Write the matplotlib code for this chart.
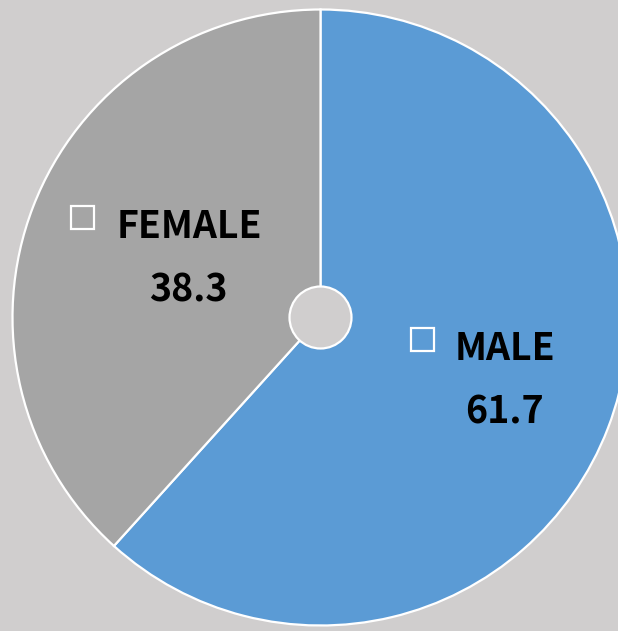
import matplotlib
matplotlib.use("Agg")
import matplotlib.pyplot as plt
from matplotlib.patches import Circle, Rectangle

plt.rcParams['font.family'] = ['Noto Sans CJK JP', 'DejaVu Sans']

categories = ["MALE", "FEMALE"]
values = [61.7, 38.3]
colors = ["#5b9bd5", "#a5a5a5"]
bg = "#d0cece"

W, H = 618, 631
fig = plt.figure(figsize=(W / 100, H / 100), dpi=100, facecolor=bg)
ax = fig.add_axes([0, 0, 1, 1])
ax.set_facecolor(bg)
ax.set_xlim(0, W)
ax.set_ylim(H, 0)
ax.axis('off')

cx, cy, R = 320.5, 317.5, 308
# y axis inverted -> counterclock=True appears clockwise
ax.pie(values, colors=colors, startangle=-90, counterclock=True,
       center=(cx, cy), radius=R, frame=True,
       wedgeprops=dict(edgecolor="white", linewidth=1.6))
ax.set_xlim(0, W)
ax.set_ylim(H, 0)
ax.set_aspect('equal')
ax.axis('off')

ax.add_patch(Circle((cx, cy), 31, facecolor=bg, edgecolor="white", lw=1.6, zorder=5))

# label layout: (square x, square y, name center x, name baseline, value center x, value baseline)
layout = {
    "MALE": (411, 328, 505, 360, 504, 423.5),
    "FEMALE": (71, 206, 189, 238, 188.5, 301),
}
for cat, val in zip(categories, values):
    sx, sy, nx, ny, vx, vy = layout[cat]
    ax.add_patch(Rectangle((sx, sy), 22.5, 22.5, facecolor="none", edgecolor="white", lw=1.6, zorder=6))
    ax.text(nx, ny, cat, ha='center', va='baseline', fontsize=27, fontweight='bold', color='black', zorder=7)
    ax.text(vx, vy, f"{val:.1f}", ha='center', va='baseline', fontsize=27, fontweight='bold', color='black', zorder=7)

fig.savefig("out.png", dpi=100, facecolor=bg)
